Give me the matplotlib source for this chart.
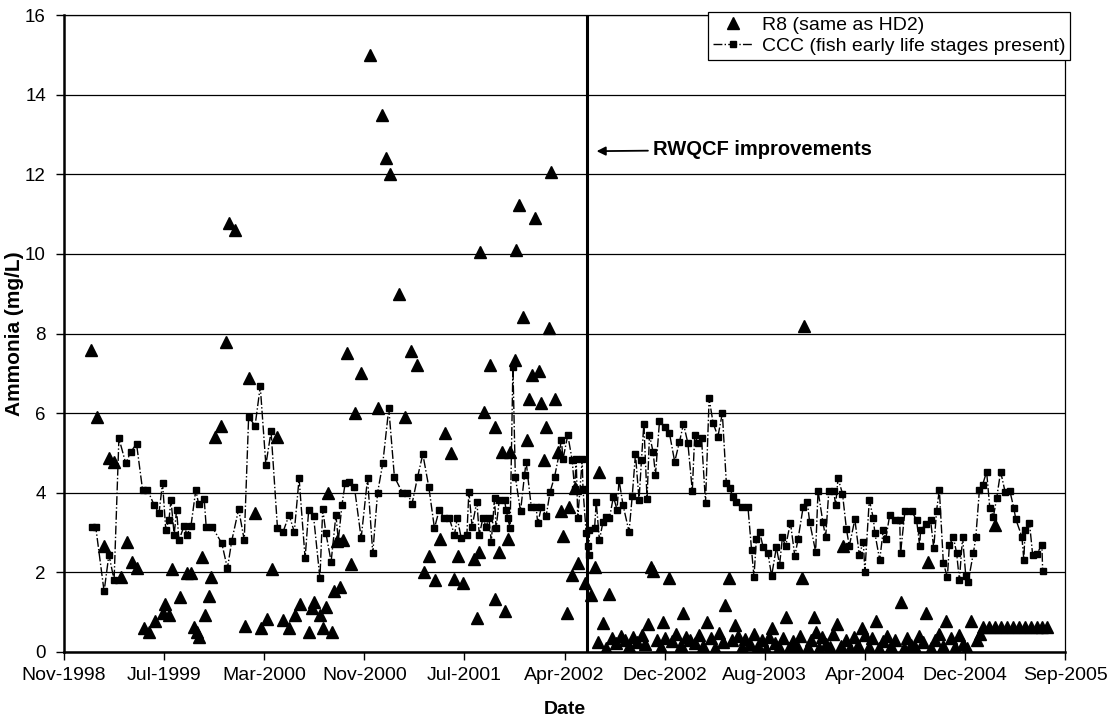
import matplotlib
matplotlib.use('Agg')
import matplotlib.pyplot as plt
import matplotlib.dates as mdates
import numpy as np
import pandas as pd

plt.rcParams['font.family'] = ['Liberation Sans', 'DejaVu Sans']

# Sampling dates are stored as days since 1 Nov 1998
START = pd.Timestamp('1998-11-01')

# R8 (same as HD2) - triangles
r8_day = [68, 83, 100, 111, 125, 142, 156, 169, 183, 200, 212, 227, 247, 252, 262, 269,
          289, 308, 317, 325, 333, 337, 344, 352, 361, 367, 377, 392, 404, 412, 427, 452,
          461, 477, 492, 507, 519, 531, 548, 562, 577, 590, 611, 618, 625, 639, 646, 654,
          658, 668, 675, 682, 689, 696, 706, 717, 727, 742, 765, 783, 795, 805, 815, 837,
          852, 867, 881, 898, 912, 927, 940, 952, 967, 973, 983, 996, 1025, 1031, 1037, 1040,
          1050, 1064, 1075, 1077, 1087, 1094, 1100, 1108, 1114, 1127, 1128, 1137, 1146, 1156,
          1162, 1169, 1175, 1185, 1190, 1198, 1204, 1211, 1215, 1225, 1233, 1242, 1246, 1256,
          1261, 1269, 1275, 1283, 1300, 1317, 1327, 1333, 1336, 1346, 1354, 1360,
          1368, 1378, 1390, 1400, 1410, 1420, 1432, 1444, 1452, 1458, 1467, 1472, 1480, 1490,
          1497, 1502, 1511, 1518, 1528, 1540, 1547, 1552, 1562, 1575, 1585, 1595, 1606, 1615,
          1625, 1635, 1645, 1650, 1661, 1668, 1675, 1682, 1692, 1700, 1712, 1722, 1732, 1742,
          1752, 1760, 1767, 1775, 1785, 1795, 1802, 1810, 1820, 1830, 1838, 1844, 1847, 1858,
          1865, 1872, 1879, 1885, 1893, 1902, 1912, 1920, 1931, 1940, 1946, 1952, 1962, 1972,
          1982, 1992, 2000, 2010, 2018, 2027, 2035, 2045, 2055, 2065, 2075, 2089, 2097, 2105,
          2115, 2125, 2135, 2145, 2152, 2158, 2165, 2175, 2185, 2195, 2202, 2215, 2225, 2235,
          2245, 2255, 2265, 2280, 2288, 2295, 2310, 2325, 2326, 2340, 2355, 2370, 2385, 2400,
          2415, 2430, 2443, 2455]
r8_val = [7.59, 5.9, 2.66, 4.87, 4.78, 1.89, 2.77, 2.27, 2.1, 0.6, 0.51, 0.79, 0.98, 1.2, 0.93, 2.08,
          1.39, 1.99, 1.99, 0.64, 0.51, 0.37, 2.39, 0.93, 1.41, 1.89, 5.39, 5.68, 7.78, 10.78, 10.6, 0.65,
          6.89, 3.48, 0.6, 0.82, 2.08, 5.41, 0.8, 0.6, 0.93, 1.2, 0.51, 1.1, 1.26, 0.93, 0.6, 1.12,
          4.0, 0.51, 1.52, 2.8, 1.63, 2.81, 7.5, 2.2, 6.01, 7.02, 15.0, 6.12, 13.5, 12.4, 12.0, 9.0,
          5.91, 7.55, 7.21, 2.02, 2.41, 1.81, 2.83, 5.51, 5.01, 1.83, 2.41, 1.73, 2.33, 0.85, 2.52, 10.05,
          6.04, 7.21, 1.32, 5.65, 2.52, 5.03, 1.04, 2.83, 5.03, 7.34, 10.1, 11.23, 8.42, 5.33,
          6.35, 6.96, 10.9, 7.06, 6.25, 4.82, 5.66, 8.13, 12.06, 6.35, 5.03, 3.53, 2.91, 0.97,
          3.65, 1.93, 4.11, 2.23, 1.73, 1.43, 2.14, 0.26, 4.53, 0.74, 0.09, 1.46,
          0.35, 0.22, 0.40, 0.30, 0.15, 0.38, 0.25, 0.42, 0.20, 0.7, 2.14, 2.04, 0.30, 0.12,
          0.76, 0.35, 1.85, 0.28, 0.45, 0.18, 0.97, 0.38, 0.30, 0.22, 0.42, 0.15, 0.76, 0.35,
          0.10, 0.48, 0.25, 1.18, 1.85, 0.30, 0.68, 0.40, 0.12, 0.32, 0.20, 0.45, 0.15, 0.30,
          0.08, 0.38, 0.6, 0.22, 0.12, 0.35, 0.87, 0.10, 0.28, 0.15, 0.40, 1.85, 8.19, 0.12,
          0.30, 0.87, 0.49, 0.10, 0.38, 0.20, 0.12, 0.45, 0.7, 0.15, 2.66, 0.30, 0.10, 0.38,
          0.18, 0.6, 0.42, 0.12, 0.35, 0.79, 0.10, 0.28, 0.40, 0.15, 0.30, 1.26, 0.10, 0.35,
          0.18, 0.12, 0.40, 0.25, 0.99, 2.27, 0.10, 0.30, 0.45, 0.15, 0.79, 0.35, 0.12, 0.42,
          0.20, 0.10, 0.79, 0.30, 0.45, 0.62, 0.62, 0.62, 3.19, 0.62, 0.62, 0.62, 0.62, 0.62,
          0.62, 0.62, 0.62, 0.62]

# CCC (fish early life stages present) - squares with dash-dot line
ccc_day = [71, 79, 100, 112, 125, 137, 154, 167, 181, 196, 208, 225, 237, 246, 254, 262,
           267, 275, 281, 287, 300, 307, 317, 329, 336, 350, 355, 370, 394, 408, 419, 436,
           450, 461, 477, 490, 504, 517, 533, 547, 562, 575, 587, 602, 611, 623, 639, 646,
           654, 667, 679, 685, 694, 702, 711, 725, 742, 758, 771, 783, 796, 811, 825, 845,
           857, 869, 883, 896, 911, 925, 937, 950, 962, 975, 982, 992, 1006, 1011, 1019, 1031,
           1037, 1046, 1054, 1061, 1067, 1075, 1079, 1087, 1100, 1104, 1108, 1114, 1121, 1127,
           1140, 1150, 1154, 1167, 1179, 1183, 1192, 1204, 1214, 1225, 1236, 1242, 1246, 1258,
           1269, 1275, 1279, 1283, 1294, 1296, 1304, 1308, 1311, 1312, 1325, 1329, 1337, 1346,
           1354, 1362, 1372, 1381, 1386, 1396, 1411, 1419, 1427, 1436, 1442, 1448, 1456, 1462,
           1471, 1477, 1487, 1500, 1512, 1525, 1537, 1547, 1558, 1569, 1575, 1583, 1592, 1602,
           1611, 1621, 1633, 1644, 1654, 1662, 1671, 1679, 1692, 1708, 1717, 1723, 1729, 1737,
           1746, 1758, 1767, 1779, 1787, 1794, 1802, 1814, 1825, 1833, 1846, 1856, 1862, 1877,
           1883, 1895, 1902, 1910, 1922, 1927, 1933, 1944, 1954, 1961, 1975, 1986, 1996, 2000,
           2011, 2021, 2025, 2037, 2046, 2052, 2062, 2075, 2087, 2089, 2100, 2117, 2129, 2137,
           2139, 2152, 2164, 2172, 2179, 2186, 2196, 2206, 2211, 2221, 2229, 2236, 2244, 2252,
           2258, 2271, 2277, 2286, 2294, 2304, 2312, 2321, 2329, 2339, 2350, 2362, 2372, 2377,
           2392, 2397, 2400, 2411, 2419, 2429, 2442, 2444]
ccc_val = [3.15, 3.15, 1.52, 2.44, 1.81, 5.37, 4.74, 5.03, 5.23, 4.08, 4.08, 3.69, 3.48, 4.25, 3.07, 3.32,
           3.82, 2.94, 3.57, 2.81, 3.17, 2.94, 3.17, 4.07, 3.72, 3.84, 3.14, 3.14, 2.73, 2.1, 2.8, 3.59,
           2.81, 5.91, 5.68, 6.67, 4.7, 5.54, 3.11, 3.02, 3.44, 3.02, 4.36, 2.35, 3.57, 3.42, 1.85, 3.59,
           2.98, 2.27, 3.44, 2.8, 3.69, 4.24, 4.28, 4.15, 2.86, 4.36, 2.48, 4.0, 4.74, 6.12, 4.4, 4.0,
           4.0, 3.72, 4.4, 4.97, 4.14, 3.11, 3.57, 3.36, 3.36, 2.94, 3.36, 2.86, 2.94, 4.03, 3.15, 3.78,
           2.94, 3.36, 3.15, 3.36, 2.77, 3.86, 3.11, 3.82, 3.82, 3.57, 3.36, 3.11, 7.17, 4.4,
           3.53, 4.45, 4.78, 3.63, 3.63, 3.23, 3.63, 3.42, 4.03, 4.4, 4.95, 5.33, 4.84, 5.45,
           4.82, 4.09, 4.84, 3.36, 4.84, 4.09, 2.98, 2.65, 2.44, 3.07, 3.11, 3.78, 2.81, 3.27,
           3.4, 3.36, 3.9, 3.57, 4.32, 3.69, 3.02, 3.92, 4.97, 3.82, 4.82, 5.73, 3.84, 5.45,
           5.03, 4.45, 5.79, 5.66, 5.49, 4.78, 5.28, 5.73, 5.24, 4.05, 5.45, 5.24, 5.37, 3.75,
           6.37, 5.75, 5.41, 6.0, 4.24, 4.11, 3.9, 3.78, 3.64, 3.64, 2.56, 1.89, 2.83, 3.02,
           2.63, 2.48, 1.91, 2.63, 2.19, 2.88, 2.65, 3.25, 2.41, 2.83, 3.65, 3.78, 3.27, 2.52,
           4.05, 3.27, 2.88, 4.05, 4.05, 3.69, 4.36, 3.98, 3.08, 2.66, 3.33, 2.44, 2.77, 2.02,
           3.82, 3.36, 2.98, 2.31, 3.07, 2.83, 3.44, 3.32, 3.32, 2.48, 3.53, 3.53, 3.32, 2.65,
           3.07, 3.22, 3.32, 2.6, 3.55, 4.07, 2.23, 1.88, 2.69, 2.88, 2.49, 1.81, 2.88, 1.91,
           1.77, 2.49, 2.88, 4.07, 4.2, 4.53, 3.61, 3.4, 3.86, 4.53, 4.03, 4.05, 3.61, 3.33,
           2.9, 2.31, 3.07, 3.25, 2.44, 2.46, 2.69, 2.04]

improve_day = 1307   # RWQCF improvements (early June 2002)
tick_days = list(range(0, 2501, 250))

r8_dates = START + pd.to_timedelta(r8_day, unit='D')
ccc_dates = START + pd.to_timedelta(ccc_day, unit='D')
improve_date = START + pd.Timedelta(days=improve_day)
tick_dates = [START + pd.Timedelta(days=d) for d in tick_days]

fig = plt.figure(figsize=(11.14, 7.25), dpi=100)
ax = fig.add_axes([0.0575, 0.1007, 0.8986, 0.8786])

ax.plot(r8_dates, r8_val, linestyle='none', marker='^', markersize=8,
        color='black', label='R8 (same as HD2)', zorder=3)
ax.plot(ccc_dates, ccc_val, linestyle='-.', linewidth=1.0, marker='s', markersize=5,
        color='black', label='CCC (fish early life stages present)', zorder=4)

ax.axvline(improve_date, color='black', linewidth=2.2, zorder=5)
ax.annotate('RWQCF improvements', xy=(START + pd.Timedelta(days=1330), 12.58),
            xytext=(START + pd.Timedelta(days=1472), 12.62),
            ha='left', va='center', fontsize=14.5, fontweight='bold',
            arrowprops=dict(arrowstyle='-|>', color='black', lw=1.3,
                            mutation_scale=13, shrinkA=2, shrinkB=0))

ax.set_xlim(tick_dates[0], tick_dates[-1])
ax.set_ylim(0, 16)
ax.set_xticks(tick_dates)
ax.xaxis.set_major_formatter(mdates.DateFormatter('%b-%Y'))
ax.set_yticks(range(0, 17, 2))
ax.yaxis.grid(True, color='black', linewidth=0.9)
ax.set_axisbelow(True)
ax.tick_params(direction='out', length=6, width=1, color='black')
ax.tick_params(axis='x', labelsize=14, pad=5)
ax.tick_params(axis='y', labelsize=13.5, pad=7)

for side in ['left', 'bottom']:
    ax.spines[side].set_linewidth(1.8)
for side in ['top', 'right']:
    ax.spines[side].set_linewidth(0.9)

ax.set_xlabel('Date', fontsize=14, fontweight='bold', labelpad=12)
ax.set_ylabel('Ammonia (mg/L)', fontsize=15, fontweight='bold', labelpad=1)

leg = ax.legend(loc='upper right', bbox_to_anchor=(1.005, 1.005), fontsize=14,
                frameon=True, fancybox=False, edgecolor='black', framealpha=1,
                borderpad=0.25, labelspacing=0.15, handlelength=2.0, handletextpad=0.5,
                borderaxespad=0)
leg.get_frame().set_linewidth(0.9)

fig.savefig('out.png', dpi=100, facecolor='white')
